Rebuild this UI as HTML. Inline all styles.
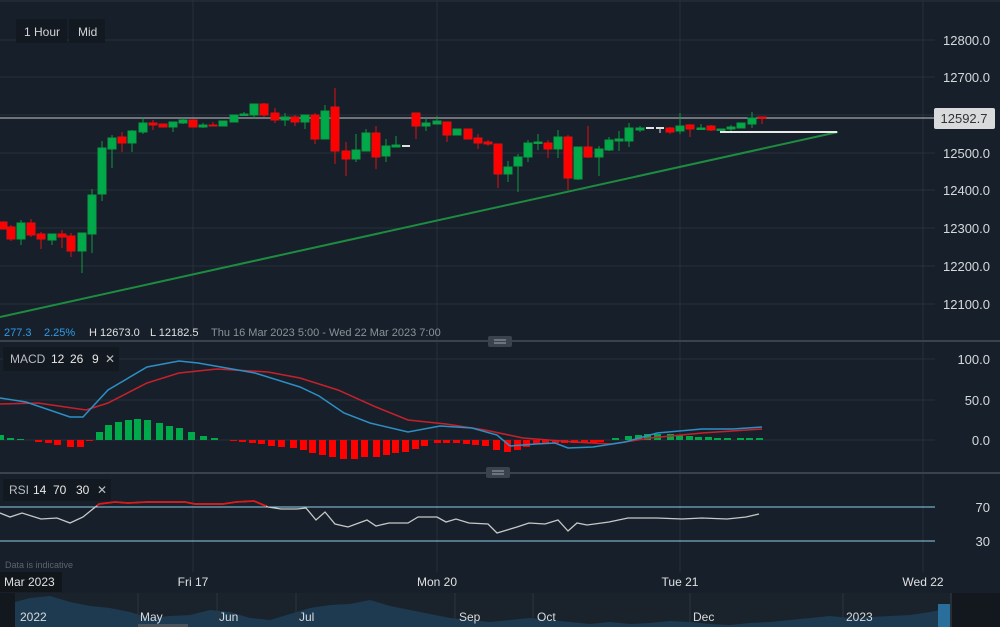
<!DOCTYPE html>
<html><head><meta charset="utf-8"><style>
html,body{margin:0;padding:0;background:#17202a;}
body{width:1000px;height:627px;overflow:hidden;position:relative;font-family:"Liberation Sans",sans-serif;}
svg{position:absolute;left:0;top:0;}
</style></head><body>
<svg width="1000" height="627" viewBox="0 0 1000 627" xmlns="http://www.w3.org/2000/svg" font-family="Liberation Sans, sans-serif">
<rect width="1000" height="627" fill="#17202a"/>
<line x1="0" y1="1" x2="1000" y2="1" stroke="#2a333d"/>
<!-- grid -->
<g stroke="#27313b" stroke-width="1">
<line x1="0" y1="40" x2="935" y2="40"/><line x1="0" y1="77" x2="935" y2="77"/><line x1="0" y1="115" x2="935" y2="115"/>
<line x1="0" y1="153" x2="935" y2="153"/><line x1="0" y1="190" x2="935" y2="190"/><line x1="0" y1="228" x2="935" y2="228"/>
<line x1="0" y1="266" x2="935" y2="266"/><line x1="0" y1="304" x2="935" y2="304"/>
<line x1="0" y1="359" x2="935" y2="359"/><line x1="0" y1="400" x2="935" y2="400"/><line x1="0" y1="440" x2="935" y2="440"/>
<line x1="193" y1="0" x2="193" y2="572"/><line x1="437" y1="0" x2="437" y2="572"/><line x1="680" y1="0" x2="680" y2="572"/><line x1="923" y1="0" x2="923" y2="572"/>
</g>
<!-- header boxes -->
<rect x="16" y="19" width="51" height="24" fill="#131920"/><text x="24" y="36" font-size="12" fill="#d0d4d8">1 Hour</text>
<rect x="69" y="19" width="36" height="24" fill="#131920"/><text x="78" y="36" font-size="12" fill="#d0d4d8">Mid</text>
<!-- price axis -->
<g font-size="13" fill="#d6d9dc" text-anchor="end">
<text x="990" y="45">12800.0</text><text x="990" y="82">12700.0</text><text x="990" y="158">12500.0</text>
<text x="990" y="195">12400.0</text><text x="990" y="233">12300.0</text><text x="990" y="271">12200.0</text><text x="990" y="309">12100.0</text>
</g>
<!-- current price line -->
<line x1="0" y1="118" x2="935" y2="118" stroke="#c8c8c8" stroke-width="1"/>
<rect x="934" y="108" width="61" height="21" rx="2" fill="#d9dadb"/>
<text x="964" y="123" font-size="13" fill="#333" text-anchor="middle">12592.7</text>
<!-- trendline -->
<line x1="0" y1="317" x2="838" y2="132" stroke="#1e8c40" stroke-width="2"/>
<line x1="720" y1="132" x2="837" y2="132" stroke="#e8e8e8" stroke-width="2"/>
<!-- candles -->
<g stroke-width="1">
<g stroke="#e01010" fill="#ff0000">
<rect x="-1" y="222" width="8" height="7"/>
<line x1="11" y1="225" x2="11" y2="241"/><rect x="7" y="227" width="8" height="12"/>
<line x1="31" y1="219" x2="31" y2="237"/><rect x="27" y="223" width="8" height="12"/>
<line x1="41" y1="232" x2="41" y2="249"/><rect x="37" y="234" width="8" height="5"/>
<line x1="62" y1="230" x2="62" y2="248"/><rect x="58" y="234" width="8" height="3"/>
<line x1="71" y1="233" x2="71" y2="257"/><rect x="67" y="236" width="8" height="15"/>
<line x1="122" y1="132" x2="122" y2="152"/><rect x="118" y="137" width="8" height="6"/>
<line x1="153" y1="120" x2="153" y2="130"/><rect x="149" y="123" width="8" height="2"/>
<rect x="159" y="124" width="8" height="3"/>
<rect x="189" y="120" width="8" height="7"/>
<line x1="213" y1="122" x2="213" y2="126"/><rect x="209" y="125" width="8" height="1"/>
<line x1="264" y1="103" x2="264" y2="117"/><rect x="260" y="104" width="8" height="11"/>
<line x1="275" y1="108" x2="275" y2="123"/><rect x="271" y="113" width="8" height="7"/>
<line x1="295" y1="115" x2="295" y2="126"/><rect x="291" y="117" width="8" height="5"/>
<line x1="315" y1="113" x2="315" y2="144"/><rect x="311" y="115" width="8" height="24"/>
<line x1="335" y1="88" x2="335" y2="164"/><rect x="331" y="107" width="8" height="44"/>
<line x1="346" y1="142" x2="346" y2="176"/><rect x="342" y="151" width="8" height="8"/>
<line x1="376" y1="126" x2="376" y2="169"/><rect x="372" y="133" width="8" height="24"/>
<line x1="416" y1="113" x2="416" y2="139"/><rect x="412" y="113" width="8" height="13"/>
<line x1="447" y1="122" x2="447" y2="142"/><rect x="443" y="122" width="8" height="13"/>
<rect x="464" y="129" width="8" height="10"/>
<line x1="478" y1="134" x2="478" y2="149"/><rect x="474" y="138" width="8" height="5"/>
<line x1="488" y1="140" x2="488" y2="146"/><rect x="484" y="142" width="8" height="2"/>
<line x1="498" y1="144" x2="498" y2="188"/><rect x="494" y="144" width="8" height="30"/>
<line x1="548" y1="140" x2="548" y2="158"/><rect x="544" y="143" width="8" height="6"/>
<line x1="568" y1="135" x2="568" y2="190"/><rect x="564" y="137" width="8" height="41"/>
<line x1="588" y1="126" x2="588" y2="158"/><rect x="584" y="147" width="8" height="10"/>
<line x1="670" y1="127" x2="670" y2="134"/><rect x="666" y="128" width="8" height="4"/>
<line x1="690" y1="124" x2="690" y2="137"/><rect x="686" y="125" width="8" height="4"/>
<line x1="711" y1="125" x2="711" y2="131"/><rect x="707" y="126" width="8" height="4"/>
<line x1="762" y1="117" x2="762" y2="124"/><rect x="758" y="117" width="8" height="1.5"/>
</g>
<g stroke="#0e9a42" fill="#00a94a">
<line x1="21" y1="220" x2="21" y2="245"/><rect x="17" y="223" width="8" height="16"/>
<line x1="52" y1="234" x2="52" y2="245"/><rect x="48" y="234" width="8" height="6"/>
<line x1="82" y1="233" x2="82" y2="273"/><rect x="78" y="233" width="8" height="18"/>
<line x1="92" y1="189" x2="92" y2="253"/><rect x="88" y="195" width="8" height="39"/>
<line x1="102" y1="141" x2="102" y2="201"/><rect x="98" y="148" width="8" height="46"/>
<line x1="112" y1="135" x2="112" y2="168"/><rect x="108" y="138" width="8" height="11"/>
<line x1="132" y1="130" x2="132" y2="152"/><rect x="128" y="131" width="8" height="12"/>
<line x1="143" y1="117" x2="143" y2="134"/><rect x="139" y="123" width="8" height="9"/>
<line x1="173" y1="122" x2="173" y2="132"/><rect x="169" y="122" width="8" height="5"/>
<line x1="183" y1="118" x2="183" y2="124"/><rect x="179" y="120" width="8" height="3"/>
<line x1="203" y1="123" x2="203" y2="128"/><rect x="199" y="125" width="8" height="2"/>
<rect x="219" y="121" width="8" height="5"/>
<rect x="230" y="115" width="8" height="7"/>
<line x1="244" y1="112" x2="244" y2="116"/><rect x="240" y="114" width="8" height="1.5"/>
<line x1="254" y1="104" x2="254" y2="119"/><rect x="250" y="104" width="8" height="11"/>
<line x1="285" y1="113" x2="285" y2="126"/><rect x="281" y="117" width="8" height="3"/>
<line x1="305" y1="115" x2="305" y2="129"/><rect x="301" y="115" width="8" height="7"/>
<line x1="325" y1="105" x2="325" y2="139"/><rect x="321" y="111" width="8" height="28"/>
<line x1="356" y1="134" x2="356" y2="162"/><rect x="352" y="150" width="8" height="9"/>
<line x1="366" y1="129" x2="366" y2="151"/><rect x="362" y="133" width="8" height="18"/>
<line x1="386" y1="139" x2="386" y2="162"/><rect x="382" y="146" width="8" height="10"/>
<line x1="396" y1="136" x2="396" y2="147"/><rect x="392" y="145" width="8" height="2"/>
<line x1="426" y1="118" x2="426" y2="131"/><rect x="422" y="123" width="8" height="3"/>
<line x1="437" y1="116" x2="437" y2="124"/><rect x="433" y="121" width="8" height="3"/>
<rect x="453" y="129" width="8" height="6"/>
<line x1="508" y1="161" x2="508" y2="182"/><rect x="504" y="167" width="8" height="7"/>
<line x1="518" y1="154" x2="518" y2="192"/><rect x="514" y="157" width="8" height="9"/>
<line x1="528" y1="140" x2="528" y2="162"/><rect x="524" y="143" width="8" height="14"/>
<line x1="538" y1="134" x2="538" y2="150"/><rect x="534" y="142" width="8" height="1.5"/>
<line x1="558" y1="130" x2="558" y2="158"/><rect x="554" y="137" width="8" height="12"/>
<line x1="578" y1="147" x2="578" y2="180"/><rect x="574" y="147" width="8" height="32"/>
<line x1="599" y1="146" x2="599" y2="176"/><rect x="595" y="149" width="8" height="8"/>
<line x1="609" y1="137" x2="609" y2="151"/><rect x="605" y="140" width="8" height="10"/>
<line x1="619" y1="131" x2="619" y2="151"/><rect x="615" y="139" width="8" height="2"/>
<line x1="629" y1="123" x2="629" y2="147"/><rect x="625" y="128" width="8" height="13"/>
<line x1="640" y1="126" x2="640" y2="132"/><rect x="636" y="128" width="8" height="2"/>
<line x1="680" y1="113" x2="680" y2="134"/><rect x="676" y="126" width="8" height="5"/>
<line x1="701" y1="124" x2="701" y2="130"/><rect x="697" y="128" width="8" height="1.5"/>
<rect x="717" y="129" width="8" height="1.5"/>
<line x1="731" y1="125" x2="731" y2="131"/><rect x="727" y="127" width="8" height="2"/>
<rect x="737" y="123" width="8" height="5"/>
<line x1="752" y1="112" x2="752" y2="128"/><rect x="748" y="118" width="8" height="6"/>
</g>
<g stroke="#e0e0e0" fill="#e0e0e0">
<line x1="402" y1="146" x2="410" y2="146" stroke-width="2"/>
<line x1="646" y1="128" x2="654" y2="128" stroke-width="2"/>
<line x1="656" y1="128" x2="664" y2="128" stroke-width="2"/><line x1="660" y1="128" x2="660" y2="133"/>
</g>
</g>
<!-- info line -->
<text y="336" font-size="11"><tspan x="4" fill="#2f9be8">277.3</tspan><tspan x="44" fill="#2f9be8">2.25%</tspan><tspan x="89" fill="#e0e0e0">H 12673.0</tspan><tspan x="150" fill="#e0e0e0">L 12182.5</tspan><tspan x="211" fill="#8a9199">Thu 16 Mar 2023 5:00 - Wed 22 Mar 2023 7:00</tspan></text>
<!-- separator 1 -->
<line x1="0" y1="341" x2="1000" y2="341" stroke="#3a434d" stroke-width="2"/>
<rect x="488" y="336" width="24" height="11" rx="2" fill="#3a434d"/>
<line x1="494" y1="340" x2="506" y2="340" stroke="#9aa" stroke-width="1"/><line x1="494" y1="343" x2="506" y2="343" stroke="#9aa" stroke-width="1"/>
<!-- MACD -->
<rect x="3" y="347" width="116" height="24" fill="#131920"/>
<text y="363" font-size="12"><tspan x="10" fill="#b9bec3">MACD</tspan><tspan x="51" fill="#e8e8e8">12</tspan><tspan x="70" fill="#e8e8e8">26</tspan><tspan x="92" fill="#e8e8e8">9</tspan><tspan x="105" fill="#b9bec3">✕</tspan></text>
<g font-size="13" fill="#d6d9dc" text-anchor="end"><text x="990" y="364">100.0</text><text x="990" y="405">50.0</text><text x="990" y="445">0.0</text></g>
<g fill="#00a94a">
<rect x="-3" y="435" width="7" height="5"/><rect x="7" y="438" width="7" height="2"/><rect x="17" y="439" width="7" height="1"/>
<rect x="96" y="432" width="7" height="8"/><rect x="105" y="425" width="7" height="15"/><rect x="115" y="422" width="7" height="18"/><rect x="125" y="420" width="7" height="20"/><rect x="134" y="419" width="7" height="21"/><rect x="144" y="420" width="7" height="20"/><rect x="156" y="423" width="7" height="17"/><rect x="166" y="426" width="7" height="14"/><rect x="176" y="428" width="7" height="12"/><rect x="188" y="432" width="7" height="8"/><rect x="200" y="436" width="7" height="4"/><rect x="211" y="438" width="7" height="2"/>
<rect x="612" y="438" width="7" height="2"/><rect x="625" y="436" width="7" height="4"/><rect x="635" y="435" width="7" height="5"/><rect x="644" y="434" width="7" height="6"/><rect x="654" y="434" width="7" height="6"/><rect x="667" y="434" width="7" height="6"/><rect x="676" y="435" width="7" height="5"/><rect x="686" y="436" width="7" height="4"/><rect x="695" y="437" width="7" height="3"/><rect x="705" y="437" width="7" height="3"/><rect x="714" y="438" width="7" height="2"/><rect x="724" y="438" width="7" height="2"/><rect x="737" y="438" width="7" height="2"/><rect x="746" y="438" width="7" height="2"/><rect x="756" y="438" width="7" height="2"/>
</g>
<g fill="#ff0000">
<rect x="35" y="440" width="7" height="2"/><rect x="45" y="440" width="7" height="3"/><rect x="54" y="440" width="7" height="5"/><rect x="67" y="440" width="7" height="7"/><rect x="77" y="440" width="7" height="7"/><rect x="86" y="440" width="7" height="1"/>
<rect x="230" y="440" width="7" height="1"/><rect x="239" y="440" width="7" height="2"/><rect x="249" y="440" width="7" height="3"/><rect x="258" y="440" width="7" height="4"/><rect x="268" y="440" width="7" height="6"/><rect x="278" y="440" width="7" height="7"/><rect x="290" y="440" width="7" height="8"/><rect x="300" y="440" width="7" height="10"/><rect x="309" y="440" width="7" height="13"/><rect x="319" y="440" width="7" height="15"/><rect x="329" y="440" width="7" height="17"/><rect x="340" y="440" width="7" height="19"/><rect x="351" y="440" width="7" height="19"/><rect x="361" y="440" width="7" height="17"/><rect x="373" y="440" width="7" height="17"/><rect x="383" y="440" width="7" height="15"/><rect x="392" y="440" width="7" height="13"/><rect x="402" y="440" width="7" height="12"/><rect x="412" y="440" width="7" height="9"/><rect x="421" y="440" width="7" height="6"/><rect x="434" y="440" width="7" height="3"/><rect x="443" y="440" width="7" height="3"/><rect x="453" y="440" width="7" height="3"/><rect x="463" y="440" width="7" height="4"/><rect x="472" y="440" width="7" height="5"/><rect x="482" y="440" width="7" height="6"/><rect x="493" y="440" width="7" height="10"/><rect x="504" y="440" width="7" height="12"/><rect x="514" y="440" width="7" height="10"/><rect x="523" y="440" width="7" height="7"/><rect x="533" y="440" width="7" height="4"/><rect x="542" y="440" width="7" height="3"/><rect x="552" y="440" width="7" height="3"/><rect x="561" y="440" width="7" height="3"/><rect x="571" y="440" width="7" height="3"/><rect x="581" y="440" width="7" height="3"/><rect x="590" y="440" width="7" height="3"/><rect x="597" y="440" width="7" height="2"/>
</g>
<polyline fill="none" stroke="#c8202a" stroke-width="1.5" points="0,404 38,403 86,410 108,403 147,383 179,373 217,369 268,372 300,378 338,390 376,407 408,420 446,424 485,430 523,438 574,442 612,444 650,438 702,433 762,429"/>
<polyline fill="none" stroke="#2d8fc4" stroke-width="1.5" points="0,398 26,402 70,417 83,417 108,390 147,367 179,361 198,363 255,373 300,387 319,396 344,413 370,423 408,432 440,426 472,428 497,435 510,446 536,444 555,443 568,448 593,447 625,442 657,433 702,429 733,429 762,427"/>
<!-- separator 2 -->
<line x1="0" y1="473" x2="1000" y2="473" stroke="#3a434d" stroke-width="2"/>
<rect x="486" y="467" width="24" height="11" rx="2" fill="#3a434d"/>
<line x1="492" y1="471" x2="504" y2="471" stroke="#9aa" stroke-width="1"/><line x1="492" y1="474" x2="504" y2="474" stroke="#9aa" stroke-width="1"/>
<!-- RSI -->
<rect x="3" y="479" width="108" height="22" fill="#131920"/>
<text y="494" font-size="12"><tspan x="9" fill="#b9bec3">RSI</tspan><tspan x="33" fill="#e8e8e8">14</tspan><tspan x="53" fill="#e8e8e8">70</tspan><tspan x="76" fill="#e8e8e8">30</tspan><tspan x="97" fill="#b9bec3">✕</tspan></text>
<line x1="0" y1="507" x2="935" y2="507" stroke="#8fcde8" stroke-width="1"/>
<line x1="0" y1="541" x2="935" y2="541" stroke="#8fcde8" stroke-width="1"/>
<g font-size="13" fill="#d6d9dc" text-anchor="end"><text x="990" y="512">70</text><text x="990" y="546">30</text></g>
<polyline fill="none" stroke="#c8c8c8" stroke-width="1.3" points="0,513 10,517 22,513 41,519 57,518 70,523 83,517 99,504 115,502 128,503 147,502 185,502 195,504 223,504 236,502 254,501 268,507 281,509 297,509 306,508 316,520 325,512 335,524 348,527 367,520 376,526 389,523 408,523 418,517 437,517 446,522 456,519 469,523 488,524 497,533 517,527 529,523 545,524 558,520 568,531 577,523 587,525 609,522 628,518 657,518 682,519 702,518 727,519 746,517 759,514"/>
<polyline fill="none" stroke="#e01818" stroke-width="1.8" points="97,506 99,504 115,502 128,503 147,502 185,502 195,504 223,504 236,502 254,501 266,506"/>
<text x="5" y="568" font-size="9" fill="#5c646c">Data is indicative</text>
<!-- x axis -->
<rect x="0" y="572" width="62" height="20" fill="#11161b"/>
<g font-size="12" fill="#e0e0e0"><text x="4" y="586">Mar 2023</text></g>
<g font-size="12" fill="#e0e0e0" text-anchor="middle"><text x="193" y="586">Fri 17</text><text x="437" y="586">Mon 20</text><text x="680" y="586">Tue 21</text><text x="923" y="586">Wed 22</text></g>
<!-- navigator -->
<rect x="0" y="593" width="1000" height="34" fill="#1a232c"/>
<rect x="0" y="593" width="15" height="34" fill="#12181e"/>
<path fill="#1d3a50" d="M15,627 L15,602 L30,598 L50,596 L70,602 L90,606 L110,608 L130,612 L150,618 L170,616 L190,615 L210,610 L230,612 L250,618 L270,620 L290,614 L310,608 L330,605 L350,604 L370,600 L390,606 L410,610 L430,614 L450,618 L470,620 L490,622 L510,620 L530,618 L550,620 L570,622 L590,624 L610,622 L630,624 L650,623 L670,621 L690,622 L710,624 L730,625 L750,623 L770,622 L790,620 L810,618 L830,616 L850,618 L870,617 L890,616 L910,615 L930,612 L940,610 L940,627 Z"/>
<rect x="938" y="604" width="12" height="23" fill="#2a6f9c"/>
<rect x="950" y="593" width="50" height="34" fill="#12181e"/>
<line x1="951" y1="593" x2="951" y2="627" stroke="#3a434d"/>
<g stroke="#2c353e"><line x1="138" y1="593" x2="138" y2="627"/><line x1="217" y1="593" x2="217" y2="627"/><line x1="296" y1="593" x2="296" y2="627"/><line x1="455" y1="593" x2="455" y2="627"/><line x1="533" y1="593" x2="533" y2="627"/><line x1="690" y1="593" x2="690" y2="627"/><line x1="843" y1="593" x2="843" y2="627"/></g>
<rect x="138" y="624" width="50" height="3" fill="#4a535c"/>
<g font-size="12" fill="#d8dadc"><text x="20" y="621">2022</text><text x="140" y="621">May</text><text x="219" y="621">Jun</text><text x="299" y="621">Jul</text><text x="459" y="621">Sep</text><text x="537" y="621">Oct</text><text x="693" y="621">Dec</text><text x="846" y="621">2023</text></g>
</svg>
</body></html>
